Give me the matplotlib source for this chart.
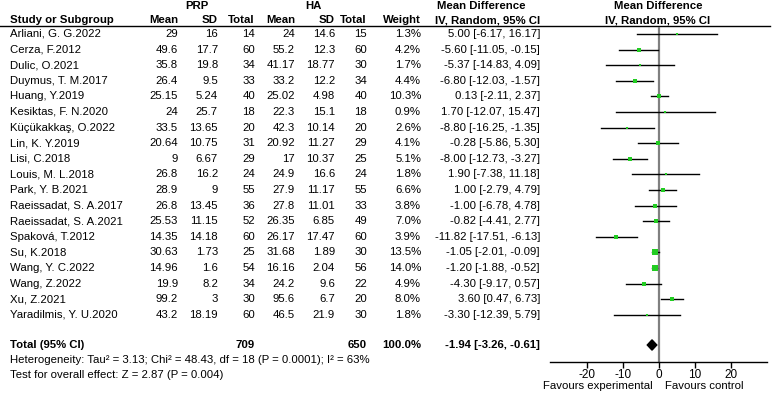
import matplotlib
matplotlib.use('Agg')
import matplotlib.pyplot as plt
from matplotlib.patches import Polygon

plt.rcParams['font.family'] = ['Liberation Sans', 'DejaVu Sans']

studies = ['Arliani, G. G.2022', 'Cerza, F.2012', 'Dulic, O.2021', 'Duymus, T. M.2017',
           'Huang, Y.2019', 'Kesiktas, F. N.2020', 'Küçükakkaş, O.2022', 'Lin, K. Y.2019',
           'Lisi, C.2018', 'Louis, M. L.2018', 'Park, Y. B.2021', 'Raeissadat, S. A.2017',
           'Raeissadat, S. A.2021', 'Spaková, T.2012', 'Su, K.2018', 'Wang, Y. C.2022',
           'Wang, Z.2022', 'Xu, Z.2021', 'Yaradilmis, Y. U.2020']
prp_mean = [29, 49.6, 35.8, 26.4, 25.15, 24, 33.5, 20.64, 9, 26.8, 28.9, 26.8, 25.53,
            14.35, 30.63, 14.96, 19.9, 99.2, 43.2]
prp_sd = [16, 17.7, 19.8, 9.5, 5.24, 25.7, 13.65, 10.75, 6.67, 16.2, 9, 13.45, 11.15,
          14.18, 1.73, 1.6, 8.2, 3, 18.19]
prp_n = [14, 60, 34, 33, 40, 18, 20, 31, 29, 24, 55, 36, 52, 60, 25, 54, 34, 30, 60]
ha_mean = [24, 55.2, 41.17, 33.2, 25.02, 22.3, 42.3, 20.92, 17, 24.9, 27.9, 27.8, 26.35,
           26.17, 31.68, 16.16, 24.2, 95.6, 46.5]
ha_sd = [14.6, 12.3, 18.77, 12.2, 4.98, 15.1, 10.14, 11.27, 10.37, 16.6, 11.17, 11.01,
         6.85, 17.47, 1.89, 2.04, 9.6, 6.7, 21.9]
ha_n = [15, 60, 30, 34, 40, 18, 20, 29, 25, 24, 55, 33, 49, 60, 30, 56, 22, 20, 30]
weight = [1.3, 4.2, 1.7, 4.4, 10.3, 0.9, 2.6, 4.1, 5.1, 1.8, 6.6, 3.8, 7.0, 3.9, 13.5,
          14.0, 4.9, 8.0, 1.8]
md = [5.00, -5.60, -5.37, -6.80, 0.13, 1.70, -8.80, -0.28, -8.00, 1.90, 1.00, -1.00,
      -0.82, -11.82, -1.05, -1.20, -4.30, 3.60, -3.30]
ci_lo = [-6.17, -11.05, -14.83, -12.03, -2.11, -12.07, -16.25, -5.86, -12.73, -7.38,
         -2.79, -6.78, -4.41, -17.51, -2.01, -1.88, -9.17, 0.47, -12.39]
ci_hi = [16.17, -0.15, 4.09, -1.57, 2.37, 15.47, -1.35, 5.30, -3.27, 11.18, 4.79, 4.78,
         2.77, -6.13, -0.09, -0.52, 0.57, 6.73, 5.79]
total_prp = 709
total_ha = 650
total_weight = 100.0
total_md, total_lo, total_hi = -1.94, -3.26, -0.61
het_text = 'Heterogeneity: Tau² = 3.13; Chi² = 48.43, df = 18 (P = 0.0001); I² = 63%'
test_text = 'Test for overall effect: Z = 2.87 (P = 0.004)'
xticks = [-20, -10, 0, 10, 20]

fs = 8.2
W, H = 778, 394
row0, rowh = 34, 15.6          # pixel of first row, row spacing

def r(px):
    return (px - row0) / rowh

fig = plt.figure(figsize=(W / 100, H / 100), dpi=100)

# ---- table part
ax = fig.add_axes([0, 0, 1, 1])
ax.set_xlim(0, W)
ax.set_ylim(r(H), r(0))
ax.axis('off')

cols = [178, 218, 255, 295, 335, 367, 421, 540]
ax.text(197, r(6), 'PRP', ha='center', va='center', fontsize=fs, fontweight='bold')
ax.text(313, r(6), 'HA', ha='center', va='center', fontsize=fs, fontweight='bold')
ax.text(481, r(6), 'Mean Difference', ha='center', va='center', fontsize=fs, fontweight='bold')
ax.text(658, r(6), 'Mean Difference', ha='center', va='center', fontsize=fs, fontweight='bold')
ax.text(658, r(20.5), 'IV, Random, 95% CI', ha='center', va='center', fontsize=fs, fontweight='bold')
ax.text(10, r(20.5), 'Study or Subgroup', ha='left', va='center', fontsize=fs, fontweight='bold')
for x, h in zip(cols, ['Mean', 'SD', 'Total', 'Mean', 'SD', 'Total', 'Weight', 'IV, Random, 95% CI']):
    ax.text(x, r(20.5), h, ha='right', va='center', fontsize=fs, fontweight='bold')
ax.plot([0, 770], [r(26.5), r(26.5)], color='black', lw=1)

for i, s in enumerate(studies):
    ax.text(10, i, s, ha='left', va='center', fontsize=fs)
    vals = [f'{prp_mean[i]:g}', f'{prp_sd[i]:g}', f'{prp_n[i]}',
            f'{ha_mean[i]:g}', f'{ha_sd[i]:g}', f'{ha_n[i]}',
            f'{weight[i]:.1f}%', f'{md[i]:.2f} [{ci_lo[i]:.2f}, {ci_hi[i]:.2f}]']
    for x, v in zip(cols, vals):
        ax.text(x, i, v, ha='right', va='center', fontsize=fs)

ty = r(345)
ax.text(10, ty, 'Total (95% CI)', ha='left', va='center', fontsize=fs, fontweight='bold')
ax.text(cols[2], ty, str(total_prp), ha='right', va='center', fontsize=fs, fontweight='bold')
ax.text(cols[5], ty, str(total_ha), ha='right', va='center', fontsize=fs, fontweight='bold')
ax.text(cols[6], ty, f'{total_weight:.1f}%', ha='right', va='center', fontsize=fs, fontweight='bold')
ax.text(cols[7], ty, f'{total_md:.2f} [{total_lo:.2f}, {total_hi:.2f}]', ha='right',
        va='center', fontsize=fs, fontweight='bold')
ax.text(10, r(360), het_text, ha='left', va='center', fontsize=fs)
ax.text(10, r(375), test_text, ha='left', va='center', fontsize=fs)
ax.text(653, r(386), 'Favours experimental', ha='right', va='center', fontsize=fs)
ax.text(665, r(386), 'Favours control', ha='left', va='center', fontsize=fs)

# ---- forest part
x0, x1 = 550, 767
zero_px = 659
upx = 3.6                        # pixels per unit
fa = fig.add_axes([x0 / W, (H - 362) / H, (x1 - x0) / W, (362 - 26.5) / H])
fa.patch.set_alpha(0)
fa.set_xlim((x0 - zero_px) / upx, (x1 - zero_px) / upx)
fa.set_ylim(r(362), r(26.5))
for sp in ['left', 'right', 'top']:
    fa.spines[sp].set_visible(False)
fa.spines['bottom'].set_linewidth(1)
fa.set_yticks([])
fa.set_xticks(xticks)
fa.set_xticklabels([str(t) for t in xticks])
fa.tick_params(axis='x', direction='out', length=4, width=1, labelsize=fs + 0.3, pad=1)
fa.axvline(0, color='#808080', lw=1.6, zorder=1)

for i in range(len(studies)):
    fa.plot([ci_lo[i], ci_hi[i]], [i, i], color='black', lw=1.0, zorder=2)
    side = (2.2 + 0.25 * weight[i]) * 0.72
    fa.scatter([md[i]], [i], marker='s', s=side ** 2, color='#22cc22', lw=0, zorder=3)

dh = 0.33
dia = Polygon([[total_lo, ty], [total_md, ty - dh], [total_hi, ty], [total_md, ty + dh]],
              closed=True, facecolor='black', edgecolor='black', zorder=3)
fa.add_patch(dia)

fig.savefig('out.png', dpi=100)
